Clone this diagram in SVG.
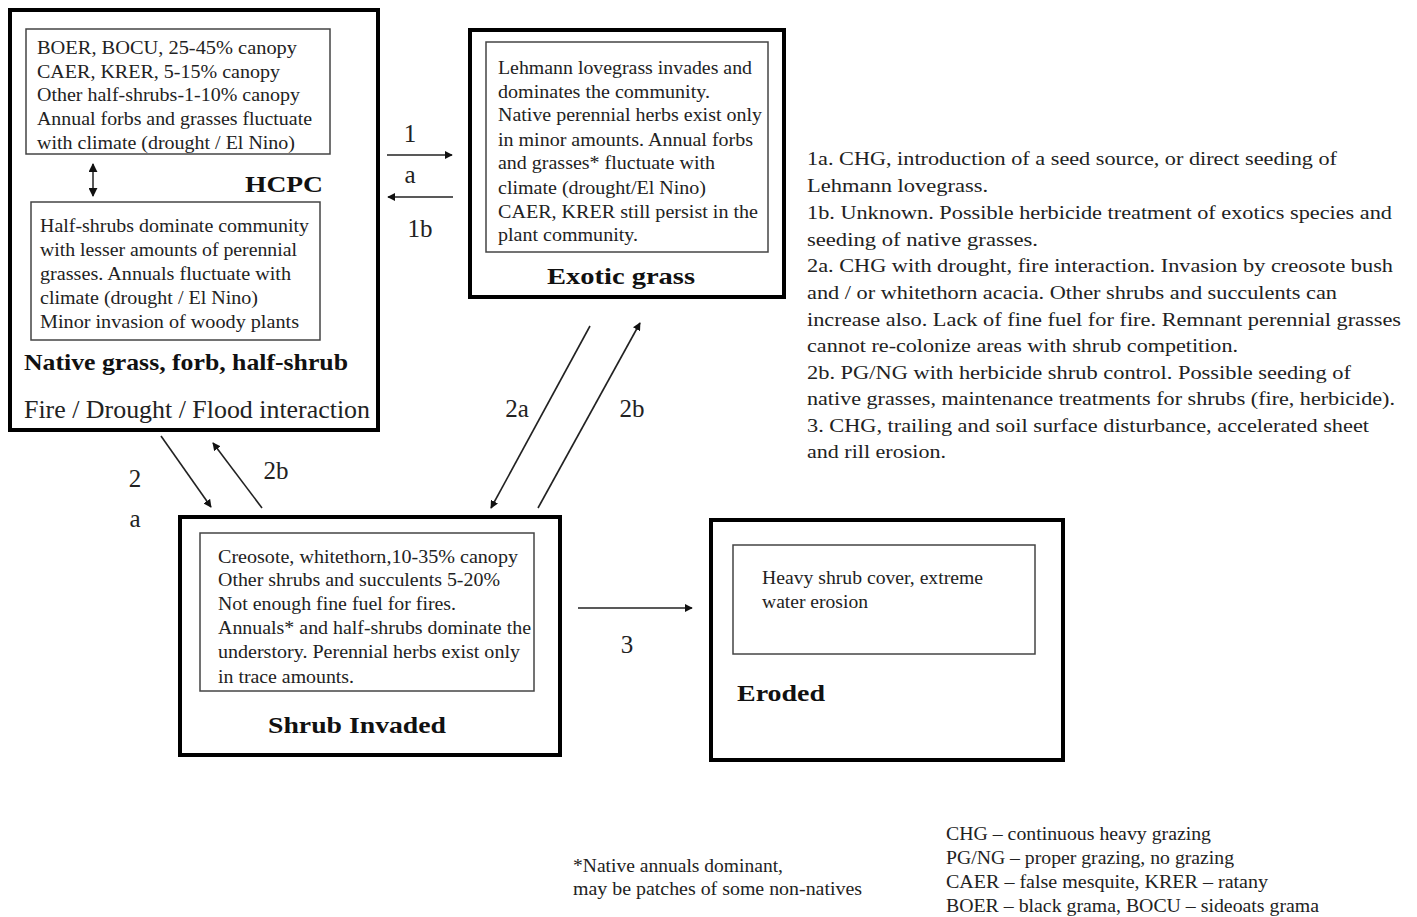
<svg xmlns="http://www.w3.org/2000/svg" width="1417" height="917" viewBox="0 0 1417 917">
<style>
.outer{fill:none;stroke:#000;stroke-width:4}
.inner{fill:none;stroke:#444;stroke-width:1.5}
text{font-family:"Liberation Serif","Times New Roman",serif;fill:#222}
.t{font-size:19px}
.title{font-size:24px;font-weight:bold;fill:#111}
.lbl{font-size:25px;fill:#222}
.note{font-size:19px}
.small{font-size:18px}
.conn line{stroke:#222;stroke-width:1.6}
</style>
<defs>
<marker id="ah" viewBox="0 0 10 10" refX="9" refY="5" markerWidth="8" markerHeight="8" orient="auto" markerUnits="userSpaceOnUse">
<path d="M0,0 L10,5 L0,10 z" fill="#111"/>
</marker>
<marker id="ahs" viewBox="0 0 10 10" refX="9" refY="5" markerWidth="9" markerHeight="9" orient="auto-start-reverse" markerUnits="userSpaceOnUse">
<path d="M0,0 L10,5 L0,10 z" fill="#111"/>
</marker>
</defs>
<rect width="1417" height="917" fill="#fff"/>

<g id="hcpc">
<rect class="outer" x="10" y="10" width="368" height="420"/>
<rect class="inner" x="26" y="29" width="304" height="125"/>
<g lengthAdjust="spacingAndGlyphs">
<text class="t" x="37" y="54" textLength="260" lengthAdjust="spacingAndGlyphs">BOER, BOCU, 25-45%  canopy</text>
<text class="t" x="37" y="78" textLength="243" lengthAdjust="spacingAndGlyphs">CAER, KRER, 5-15% canopy</text>
<text class="t" x="37" y="101" textLength="263" lengthAdjust="spacingAndGlyphs">Other half-shrubs-1-10% canopy</text>
<text class="t" x="37" y="125" textLength="275" lengthAdjust="spacingAndGlyphs">Annual forbs and grasses  fluctuate</text>
<text class="t" x="37" y="149" textLength="258" lengthAdjust="spacingAndGlyphs">with climate  (drought / El Nino)</text>
</g>
<line x1="93" y1="164" x2="93" y2="196" stroke="#222" stroke-width="1.5" marker-start="url(#ahs)" marker-end="url(#ahs)"/>
<text class="title" x="245" y="192" textLength="78" lengthAdjust="spacingAndGlyphs">HCPC</text>
<rect class="inner" x="31" y="202" width="289" height="138"/>
<text class="t" x="40" y="232" textLength="269" lengthAdjust="spacingAndGlyphs">Half-shrubs dominate community</text>
<text class="t" x="40" y="256" textLength="257" lengthAdjust="spacingAndGlyphs">with lesser  amounts of perennial</text>
<text class="t" x="40" y="280" textLength="251" lengthAdjust="spacingAndGlyphs">grasses.  Annuals fluctuate with</text>
<text class="t" x="40" y="304" textLength="218" lengthAdjust="spacingAndGlyphs">climate (drought  / El Nino)</text>
<text class="t" x="40" y="328" textLength="259" lengthAdjust="spacingAndGlyphs">Minor invasion  of woody plants</text>
<text class="title" x="24" y="370" textLength="324" lengthAdjust="spacingAndGlyphs">Native grass, forb,  half-shrub</text>
<text class="lbl" x="24" y="418" font-size="24" textLength="346" lengthAdjust="spacingAndGlyphs">Fire  / Drought   / Flood interaction</text>
</g>

<g id="exotic">
<rect class="outer" x="470" y="30" width="314" height="267"/>
<rect class="inner" x="486" y="42" width="282" height="210"/>
<text class="t" x="498" y="74" textLength="254" lengthAdjust="spacingAndGlyphs">Lehmann  lovegrass  invades and</text>
<text class="t" x="498" y="98" textLength="212" lengthAdjust="spacingAndGlyphs">dominates the community.</text>
<text class="t" x="498" y="121" textLength="264" lengthAdjust="spacingAndGlyphs">Native perennial herbs exist only</text>
<text class="t" x="498" y="146" textLength="255" lengthAdjust="spacingAndGlyphs">in minor  amounts. Annual forbs</text>
<text class="t" x="498" y="169" textLength="217" lengthAdjust="spacingAndGlyphs">and grasses*  fluctuate with</text>
<text class="t" x="498" y="194" textLength="208" lengthAdjust="spacingAndGlyphs">climate (drought/El  Nino)</text>
<text class="t" x="498" y="218" textLength="260" lengthAdjust="spacingAndGlyphs">CAER, KRER still persist in the</text>
<text class="t" x="498" y="241" textLength="140" lengthAdjust="spacingAndGlyphs">plant community.</text>
<text class="title" x="547" y="284" font-size="25" textLength="148" lengthAdjust="spacingAndGlyphs">Exotic grass</text>
</g>

<g id="shrub">
<rect class="outer" x="180" y="517" width="380" height="238"/>
<rect class="inner" x="200" y="533" width="334" height="158"/>
<text class="t" x="218" y="563" textLength="300" lengthAdjust="spacingAndGlyphs">Creosote, whitethorn,10-35% canopy</text>
<text class="t" x="218" y="586" textLength="282" lengthAdjust="spacingAndGlyphs">Other shrubs and succulents 5-20%</text>
<text class="t" x="218" y="610" textLength="238" lengthAdjust="spacingAndGlyphs">Not enough  fine  fuel  for fires.</text>
<text class="t" x="218" y="634" textLength="313" lengthAdjust="spacingAndGlyphs">Annuals*  and half-shrubs dominate  the</text>
<text class="t" x="218" y="658" textLength="302" lengthAdjust="spacingAndGlyphs">understory. Perennial  herbs exist only</text>
<text class="t" x="218" y="683" textLength="136" lengthAdjust="spacingAndGlyphs">in trace amounts.</text>
<text class="title" x="268" y="733" font-size="25" textLength="178" lengthAdjust="spacingAndGlyphs">Shrub  Invaded</text>
</g>

<g id="eroded">
<rect class="outer" x="711" y="520" width="352" height="240"/>
<rect class="inner" x="733" y="545" width="302" height="109"/>
<text class="t" x="762" y="584" textLength="221" lengthAdjust="spacingAndGlyphs">Heavy shrub cover,  extreme</text>
<text class="t" x="762" y="608" textLength="106" lengthAdjust="spacingAndGlyphs">water erosion</text>
<text class="title" x="737" y="701" font-size="25" textLength="88" lengthAdjust="spacingAndGlyphs">Eroded</text>
</g>

<g class="conn" id="connectors">
<line x1="387" y1="155" x2="452" y2="155" marker-end="url(#ah)"/>
<line x1="453" y1="197" x2="388" y2="197" marker-end="url(#ah)"/>
<line x1="161" y1="436" x2="211" y2="507" marker-end="url(#ah)"/>
<line x1="262" y1="508" x2="213" y2="443" marker-end="url(#ah)"/>
<line x1="590" y1="326" x2="491" y2="508" marker-end="url(#ah)"/>
<line x1="538" y1="508" x2="640" y2="323" marker-end="url(#ah)"/>
<line x1="578" y1="608" x2="692" y2="608" marker-end="url(#ah)"/>
</g>

<g id="labels">
<text class="lbl" x="410" y="142" text-anchor="middle">1</text>
<text class="lbl" x="410" y="183" text-anchor="middle">a</text>
<text class="lbl" x="420" y="237" text-anchor="middle">1b</text>
<text class="lbl" x="135" y="487" text-anchor="middle">2</text>
<text class="lbl" x="135" y="527" text-anchor="middle">a</text>
<text class="lbl" x="276" y="479" text-anchor="middle">2b</text>
<text class="lbl" x="517" y="417" text-anchor="middle">2a</text>
<text class="lbl" x="632" y="417" text-anchor="middle">2b</text>
<text class="lbl" x="627" y="653" text-anchor="middle">3</text>
</g>

<g id="notes">
<text class="note" x="807" y="165" textLength="530" lengthAdjust="spacingAndGlyphs">1a. CHG,  introduction of a seed source, or direct  seeding of</text>
<text class="note" x="807" y="192" textLength="181" lengthAdjust="spacingAndGlyphs">Lehmann  lovegrass.</text>
<text class="note" x="807" y="219" textLength="585" lengthAdjust="spacingAndGlyphs">1b. Unknown. Possible herbicide treatment of exotics  species and</text>
<text class="note" x="807" y="246" textLength="231" lengthAdjust="spacingAndGlyphs">seeding of native grasses.</text>
<text class="note" x="807" y="272" textLength="586" lengthAdjust="spacingAndGlyphs">2a. CHG  with drought, fire  interaction. Invasion by creosote bush</text>
<text class="note" x="807" y="299" textLength="530" lengthAdjust="spacingAndGlyphs">and / or whitethorn acacia.  Other shrubs and succulents can</text>
<text class="note" x="807" y="326" textLength="594" lengthAdjust="spacingAndGlyphs">increase also. Lack  of fine fuel for fire.  Remnant perennial grasses</text>
<text class="note" x="807" y="352" textLength="431" lengthAdjust="spacingAndGlyphs">cannot re-colonize  areas with shrub competition.</text>
<text class="note" x="807" y="379" textLength="544" lengthAdjust="spacingAndGlyphs">2b. PG/NG    with herbicide  shrub control. Possible seeding of</text>
<text class="note" x="807" y="405" textLength="588" lengthAdjust="spacingAndGlyphs">native grasses, maintenance treatments for shrubs (fire,  herbicide).</text>
<text class="note" x="807" y="432" textLength="562" lengthAdjust="spacingAndGlyphs">3. CHG,  trailing  and soil surface disturbance, accelerated sheet</text>
<text class="note" x="807" y="458" textLength="139" lengthAdjust="spacingAndGlyphs">and rill  erosion.</text>
</g>

<g id="footnote">
<text class="small" x="573" y="872" textLength="210" lengthAdjust="spacingAndGlyphs">*Native annuals  dominant,</text>
<text class="small" x="573" y="895" textLength="289" lengthAdjust="spacingAndGlyphs">may be patches of some non-natives</text>
</g>

<g id="legend">
<text class="small" x="946" y="840" textLength="265" lengthAdjust="spacingAndGlyphs">CHG – continuous heavy grazing</text>
<text class="small" x="946" y="864" textLength="288" lengthAdjust="spacingAndGlyphs">PG/NG – proper grazing,  no grazing</text>
<text class="small" x="946" y="888" textLength="322" lengthAdjust="spacingAndGlyphs">CAER – false mesquite, KRER – ratany</text>
<text class="small" x="946" y="912" textLength="373" lengthAdjust="spacingAndGlyphs">BOER – black grama,  BOCU – sideoats grama</text>
</g>
</svg>
